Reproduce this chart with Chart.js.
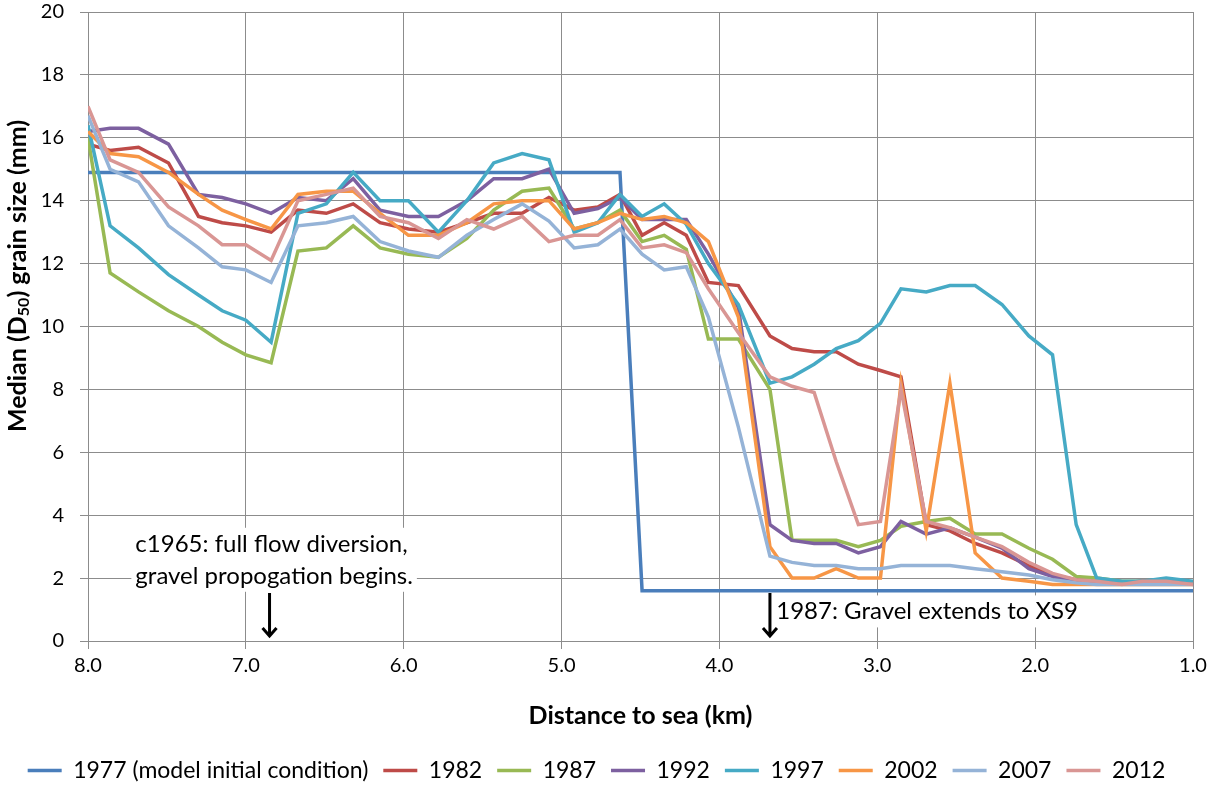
<!DOCTYPE html>
<html lang="en">
<head>
<meta charset="UTF-8" />
<title>Median grain size vs distance to sea</title>
<script src="https://cdn.jsdelivr.net/npm/chart.js@4.4.1/dist/chart.umd.min.js"></script>
<style>
  html, body { margin: 0; padding: 0; background: #fff; }
  #wrap { width: 1208px; height: 785px; }
</style>
</head>
<body>
<div id="wrap"><canvas id="grainChart" width="1208" height="785"></canvas></div>
<script>
// cross-section positions, km from the sea
const distanceKm = [8.00, 7.86, 7.68, 7.49, 7.30, 7.15, 7.00, 6.84, 6.67, 6.49, 6.32, 6.15, 5.97, 5.78, 5.60,
  5.43, 5.25, 5.08, 4.92, 4.77, 4.63, 4.49, 4.35, 4.21, 4.07, 3.88, 3.68, 3.54, 3.40, 3.26,
  3.12, 2.98, 2.85, 2.69, 2.54, 2.38, 2.21, 2.04, 1.89, 1.74, 1.61, 1.45, 1.32, 1.17, 1.00];

const seriesNames = ['1977 (model initial condition)', '1982', '1987', '1992', '1997', '2002', '2007', '2012'];
const seriesColors = ['#4A7EBB', '#BE4B48', '#98B954', '#7D60A0', '#46AAC5', '#F79646', '#95B3D7', '#D99694'];

const d50_1977 = [14.9, 14.9, 14.9, 14.9, 14.9, 14.9, 14.9, 14.9, 14.9, 14.9, 14.9, 14.9, 14.9, 14.9, 14.9,
  14.9, 14.9, 14.9, 14.9, 14.9, 14.9, 1.6, 1.6, 1.6, 1.6, 1.6, 1.6, 1.6, 1.6, 1.6,
  1.6, 1.6, 1.6, 1.6, 1.6, 1.6, 1.6, 1.6, 1.6, 1.6, 1.6, 1.6, 1.6, 1.6, 1.6];
const d50_1982 = [15.8, 15.6, 15.7, 15.2, 13.5, 13.3, 13.2, 13.0, 13.7, 13.6, 13.9, 13.3, 13.1, 13.0, 13.3,
  13.6, 13.6, 14.1, 13.7, 13.8, 14.2, 12.9, 13.3, 12.9, 11.4, 11.3, 9.7, 9.3, 9.2, 9.2,
  8.8, 8.6, 8.4, 3.7, 3.5, 3.1, 2.8, 2.4, 2.1, 1.95, 1.9, 1.85, 1.9, 1.9, 1.85];
const d50_1987 = [16.0, 11.7, 11.1, 10.5, 10.0, 9.5, 9.1, 8.85, 12.4, 12.5, 13.2, 12.5, 12.3, 12.2, 12.8,
  13.7, 14.3, 14.4, 13.1, 13.3, 13.7, 12.7, 12.9, 12.45, 9.6, 9.6, 8.0, 3.2, 3.2, 3.2,
  3.0, 3.2, 3.65, 3.8, 3.9, 3.4, 3.4, 2.95, 2.6, 2.05, 2.0, 1.9, 1.9, 1.9, 1.85];
const d50_1992 = [16.2, 16.3, 16.3, 15.8, 14.2, 14.1, 13.9, 13.6, 14.1, 14.0, 14.7, 13.7, 13.5, 13.5, 14.0,
  14.7, 14.7, 15.0, 13.6, 13.75, 14.1, 13.4, 13.4, 13.4, 12.3, 10.6, 3.7, 3.2, 3.1, 3.1,
  2.8, 3.0, 3.8, 3.4, 3.6, 3.3, 2.95, 2.3, 2.05, 1.9, 1.85, 1.85, 1.9, 1.9, 1.85];
const d50_1997 = [16.4, 13.2, 12.5, 11.65, 11.0, 10.5, 10.2, 9.5, 13.6, 13.9, 14.9, 14.0, 14.0, 13.0, 14.0,
  15.2, 15.5, 15.3, 13.0, 13.3, 14.2, 13.5, 13.9, 13.25, 12.0, 10.7, 8.2, 8.4, 8.8, 9.3,
  9.55, 10.1, 11.2, 11.1, 11.3, 11.3, 10.7, 9.7, 9.1, 3.7, 2.0, 1.9, 1.9, 2.0, 1.9];
const d50_2002 = [16.2, 15.5, 15.4, 14.9, 14.2, 13.7, 13.4, 13.1, 14.2, 14.3, 14.3, 13.6, 12.9, 12.9, 13.3,
  13.9, 14.0, 14.0, 13.1, 13.3, 13.6, 13.4, 13.5, 13.3, 12.7, 10.3, 3.0, 2.0, 2.0, 2.3,
  2.0, 2.0, 8.2, 3.5, 8.2, 2.8, 2.0, 1.9, 1.8, 1.8, 1.8, 1.8, 1.8, 1.8, 1.8];
const d50_2007 = [16.7, 15.0, 14.6, 13.2, 12.5, 11.9, 11.8, 11.4, 13.2, 13.3, 13.5, 12.7, 12.4, 12.2, 12.9,
  13.4, 13.9, 13.35, 12.5, 12.6, 13.1, 12.3, 11.8, 11.9, 10.3, 6.8, 2.7, 2.5, 2.4, 2.4,
  2.3, 2.3, 2.4, 2.4, 2.4, 2.3, 2.2, 2.1, 1.95, 1.85, 1.8, 1.8, 1.8, 1.8, 1.8];
const d50_2012 = [17.0, 15.3, 14.9, 13.8, 13.2, 12.6, 12.6, 12.1, 14.0, 14.2, 14.4, 13.5, 13.3, 12.8, 13.4,
  13.1, 13.5, 12.7, 12.9, 12.9, 13.4, 12.5, 12.6, 12.35, 11.2, 9.8, 8.4, 8.1, 7.9, 5.7,
  3.7, 3.8, 8.0, 3.8, 3.6, 3.3, 3.0, 2.5, 2.15, 1.95, 1.9, 1.8, 1.9, 1.9, 1.8];

const seriesValues = [d50_1977, d50_1982, d50_1987, d50_1992, d50_1997, d50_2002, d50_2007, d50_2012];

const xTicksKm = [8, 7, 6, 5, 4, 3, 2, 1];
const yTicksMm = [0, 2, 4, 6, 8, 10, 12, 14, 16, 18, 20];

const FONT = 'Lato, "Open Sans", sans-serif';
const GRID = '#8C8C8C';

const datasets = seriesNames.map((name, i) => ({
  label: name,
  data: seriesValues[i].map((v, j) => ({ x: distanceKm[j], y: v })),
  borderColor: seriesColors[i],
  backgroundColor: seriesColors[i],
  borderWidth: 3.5,
  pointRadius: 0,
  tension: 0,
  // later years drawn on top, like the spreadsheet
  order: seriesNames.length - i
}));

// nudge the legend row down a little
const legendShift = {
  id: 'legendShift',
  afterLayout(chart) {
    chart.legend.top += 7;
    chart.legend.bottom += 7;
  }
};

// y title with subscript, arrows and notes
const notesPlugin = {
  id: 'notes',
  afterDraw(chart) {
    const { ctx, scales: { x, y } } = chart;
    ctx.save();

    // y axis title
    ctx.translate(18, 276);
    ctx.rotate(-Math.PI / 2);
    ctx.fillStyle = '#000';
    ctx.textBaseline = 'middle';
    ctx.textAlign = 'left';
    const big = 'bold 25px ' + FONT, small = 'bold 16px ' + FONT;
    const p1 = 'Median (D', p2 = '50', p3 = ') grain size (mm)';
    ctx.font = big; const w1 = ctx.measureText(p1).width, w3 = ctx.measureText(p3).width;
    ctx.font = small; const w2 = ctx.measureText(p2).width;
    let sx = -(w1 + w2 + w3) / 2;
    ctx.font = big; ctx.fillText(p1, sx, 0); sx += w1;
    ctx.font = small; ctx.fillText(p2, sx, 6); sx += w2;
    ctx.font = big; ctx.fillText(p3, sx, 0);
    ctx.setTransform(1, 0, 0, 1, 0, 0);

    // notes
    ctx.font = '24px ' + FONT;
    ctx.textBaseline = 'middle';
    const note = (lines, kmLeft, mmTop) => {
      const lx = x.getPixelForValue(kmLeft);
      const ty = y.getPixelForValue(mmTop);
      const w = Math.max(...lines.map(t => ctx.measureText(t).width));
      ctx.fillStyle = '#fff';
      ctx.fillRect(lx - 4, ty, w + 8, lines.length * 32);
      ctx.fillStyle = '#000';
      lines.forEach((t, k) => ctx.fillText(t, lx, ty + 16 + k * 32));
    };
    note(['c1965: full flow diversion,', 'gravel propogation begins.'], 7.70, 3.6);
    note(['1987: Gravel extends to XS9'], 3.64, 1.45);

    // arrows
    const arrow = (km, fromMm, toMm) => {
      const ax = x.getPixelForValue(km);
      const y0 = y.getPixelForValue(fromMm), y1 = y.getPixelForValue(toMm);
      ctx.strokeStyle = '#000';
      ctx.lineWidth = 3;
      ctx.beginPath();
      ctx.moveTo(ax, y0); ctx.lineTo(ax, y1 - 1);
      ctx.moveTo(ax - 7, y1 - 9); ctx.lineTo(ax, y1 - 1); ctx.lineTo(ax + 7, y1 - 9);
      ctx.stroke();
    };
    arrow(6.85, 1.53, 0.13);
    arrow(3.68, 1.53, 0.13);
    ctx.restore();
  }
};

new Chart(document.getElementById('grainChart'), {
  type: 'line',
  data: { datasets },
  plugins: [legendShift, notesPlugin],
  options: {
    responsive: false,
    animation: false,
    devicePixelRatio: 1,
    layout: { padding: { left: 0, right: 15, top: 12, bottom: 0 } },
    plugins: {
      legend: {
        position: 'bottom',
        labels: {
          usePointStyle: true,
          pointStyle: 'line',
          pointStyleWidth: 34,
          padding: 15,
          color: '#000',
          font: { family: FONT, size: 23 },
          sort: (a, b) => a.datasetIndex - b.datasetIndex
        }
      },
      tooltip: { enabled: false }
    },
    scales: {
      x: {
        type: 'linear',
        reverse: true,
        min: 1,
        max: 8,
        afterBuildTicks: s => { s.ticks = xTicksKm.map(v => ({ value: v })); },
        afterFit: s => { s.height = 96; s.paddingLeft = 0; s.paddingRight = 0; },
        grid: { color: GRID, tickLength: 8 },
        border: { color: GRID },
        ticks: { color: '#000', padding: 5, font: { family: FONT, size: 20 }, callback: v => Number(v).toFixed(1) },
        title: { display: true, text: 'Distance to sea (km)', color: '#000', font: { family: FONT, size: 25, weight: 'bold' }, padding: { top: 0, bottom: 6 } }
      },
      y: {
        min: 0,
        max: 20,
        afterBuildTicks: s => { s.ticks = yTicksMm.map(v => ({ value: v })); },
        afterFit: s => { s.width = 88; s.paddingTop = 0; s.paddingBottom = 0; },
        grid: { color: GRID, tickLength: 8 },
        border: { color: GRID },
        ticks: { color: '#000', padding: 16, font: { family: FONT, size: 20 } }
      }
    }
  }
});
</script>
</body>
</html>
